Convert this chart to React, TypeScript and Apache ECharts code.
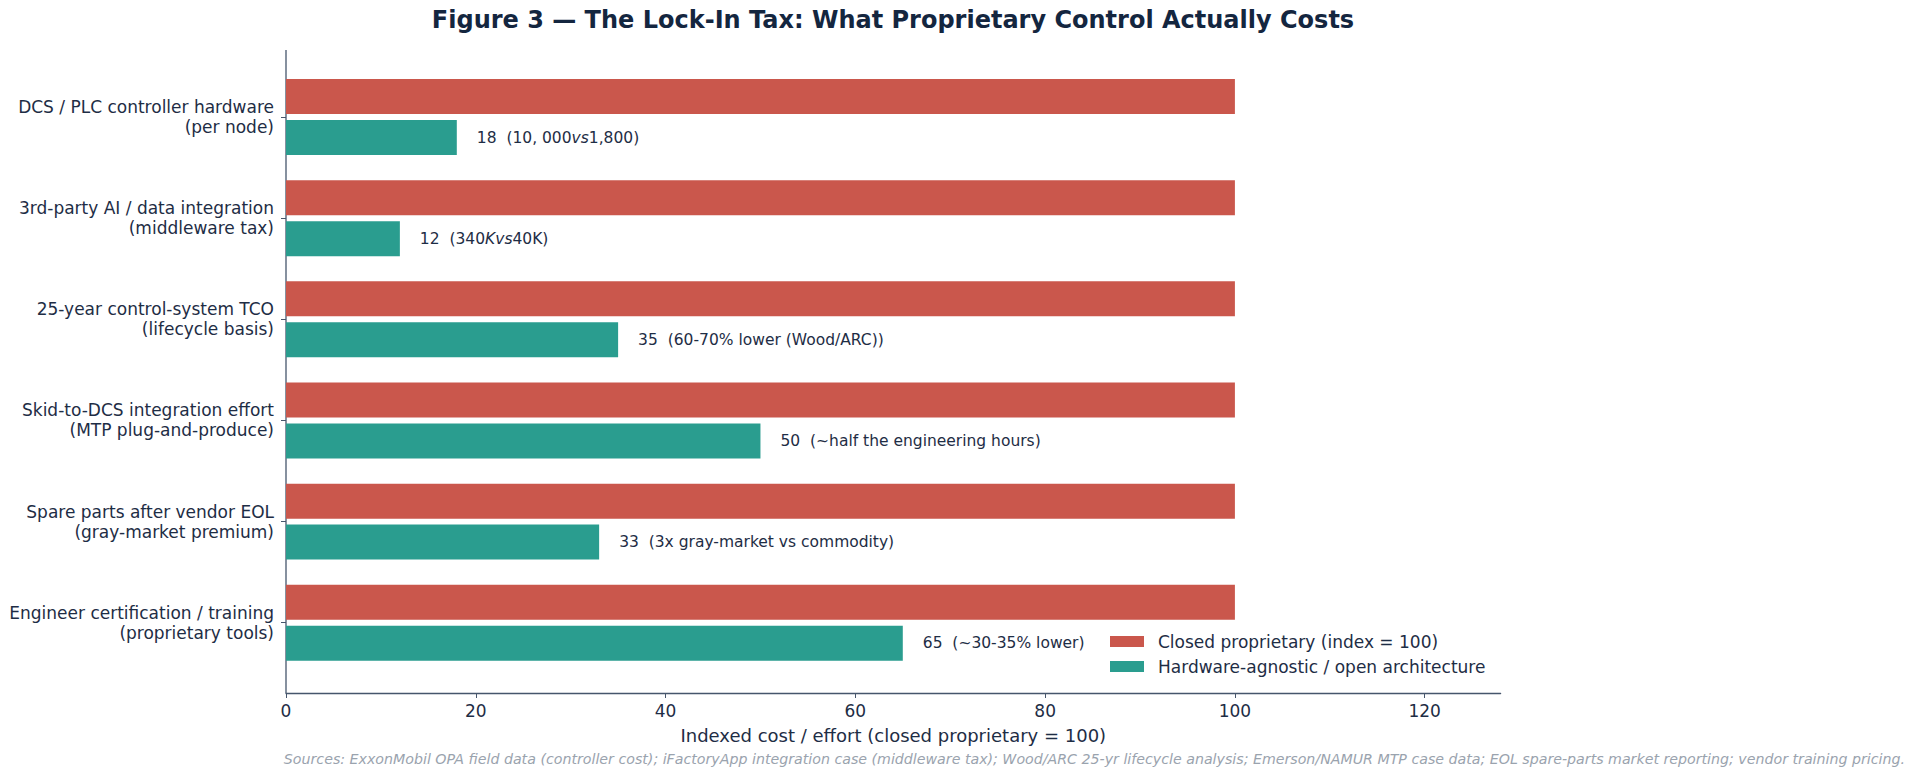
import React, { useEffect, useRef } from "react";
import * as echarts from "echarts";

const categories = [
  "DCS / PLC controller hardware\n(per node)",
  "3rd-party AI / data integration\n(middleware tax)",
  "25-year control-system TCO\n(lifecycle basis)",
  "Skid-to-DCS integration effort\n(MTP plug-and-produce)",
  "Spare parts after vendor EOL\n(gray-market premium)",
  "Engineer certification / training\n(proprietary tools)",
];
const closedValues = [100, 100, 100, 100, 100, 100];
const openValues = [18, 12, 35, 50, 33, 65];
const notes = [
  "(10, 000{i|vs}1,800)",
  "(340{i|Kvs}40K)",
  "(60-70% lower (Wood/ARC))",
  "(~half the engineering hours)",
  "(3x gray-market vs commodity)",
  "(~30-35% lower)",
];
const xTicks = [0, 20, 40, 60, 80, 100, 120];
const seriesNames = ["Closed proprietary (index = 100)", "Hardware-agnostic / open architecture"];

const TITLE = "Figure 3 \u2014 The Lock-In Tax: What Proprietary Control Actually Costs";
const SOURCES =
  "Sources: ExxonMobil OPA field data (controller cost); iFactoryApp integration case (middleware tax); Wood/ARC 25-yr lifecycle analysis; Emerson/NAMUR MTP case data; EOL spare-parts market reporting; vendor training pricing.";

const RED = "#CA574C";
const TEAL = "#2A9D8F";
const INK = "#1E2D45";
const AXIS = "#46566C";
const FONT = "DejaVu Sans";

export default function App() {
  const ref = useRef<HTMLDivElement>(null);
  useEffect(() => {
    if (!ref.current) return;
    const chart = echarts.init(ref.current, undefined, { renderer: "svg" });
    chart.setOption({
      animation: false,
      backgroundColor: "#ffffff",
      textStyle: { fontFamily: FONT },
      grid: { left: 286, right: 415.4, top: 66.5, bottom: 102.7, containLabel: false },
      legend: {
        orient: "vertical",
        left: 1110,
        top: 633,
        padding: 0,
        itemWidth: 34,
        itemHeight: 11,
        itemGap: 8,
        icon: "rect",
        data: seriesNames,
        textStyle: { color: INK, fontSize: 17, fontFamily: FONT, lineHeight: 17, padding: [0, 0, 0, 9] },
      },
      xAxis: {
        type: "value",
        min: 0,
        max: 128,
        interval: 20,
        offset: 19.7,
        splitLine: { show: false },
        axisLine: { show: true, lineStyle: { color: AXIS, width: 1.3 } },
        axisTick: { show: true, length: 5, lineStyle: { color: AXIS }, customValues: xTicks },
        axisLabel: { color: INK, fontSize: 17, margin: 9, fontFamily: FONT, customValues: xTicks },
        name: "Indexed cost / effort (closed proprietary = 100)",
        nameLocation: "middle",
        nameGap: 33,
        nameTextStyle: { color: INK, fontSize: 18, fontFamily: FONT },
      },
      yAxis: {
        type: "category",
        inverse: true,
        data: categories,
        axisLine: { show: false },
        axisTick: { show: true, alignWithLabel: true, length: 5, lineStyle: { color: AXIS } },
        axisLabel: { color: INK, fontSize: 17, lineHeight: 20, margin: 12, align: "right", fontFamily: FONT },
      },
      series: [
        {
          name: seriesNames[0],
          type: "bar",
          data: closedValues,
          barWidth: 35,
          barGap: "17%",
          itemStyle: { color: RED },
        },
        {
          name: seriesNames[1],
          type: "bar",
          data: openValues,
          barWidth: 35,
          itemStyle: { color: TEAL },
          label: {
            show: true,
            position: "right",
            distance: 20,
            color: INK,
            fontSize: 15.5,
            fontFamily: FONT,
            formatter: (p: any) => `${p.value}  ${notes[p.dataIndex]}`,
            rich: { i: { fontStyle: "italic", color: INK, fontSize: 15.5, fontFamily: FONT } },
          },
        },
      ],
      graphic: [
        {
          type: "line",
          shape: { x1: 286, y1: 50, x2: 286, y2: 693 },
          style: { stroke: AXIS, lineWidth: 1.3 },
        },
        {
          type: "text",
          x: 893,
          y: 19.5,
          style: {
            text: TITLE,
            fill: "#14263F",
            font: `bold 24px "${FONT}"`,
            textAlign: "center",
            textVerticalAlign: "middle",
          },
        },
        {
          type: "text",
          x: 1905,
          y: 759,
          style: {
            text: SOURCES,
            fill: "#9AA3AE",
            font: `italic 14.2px "${FONT}"`,
            textAlign: "right",
            textVerticalAlign: "middle",
          },
        },
      ],
    });
    return () => chart.dispose();
  }, []);
  return <div ref={ref} style={{ position: "fixed", left: 0, top: 0, width: 1916, height: 776 }} />;
}
